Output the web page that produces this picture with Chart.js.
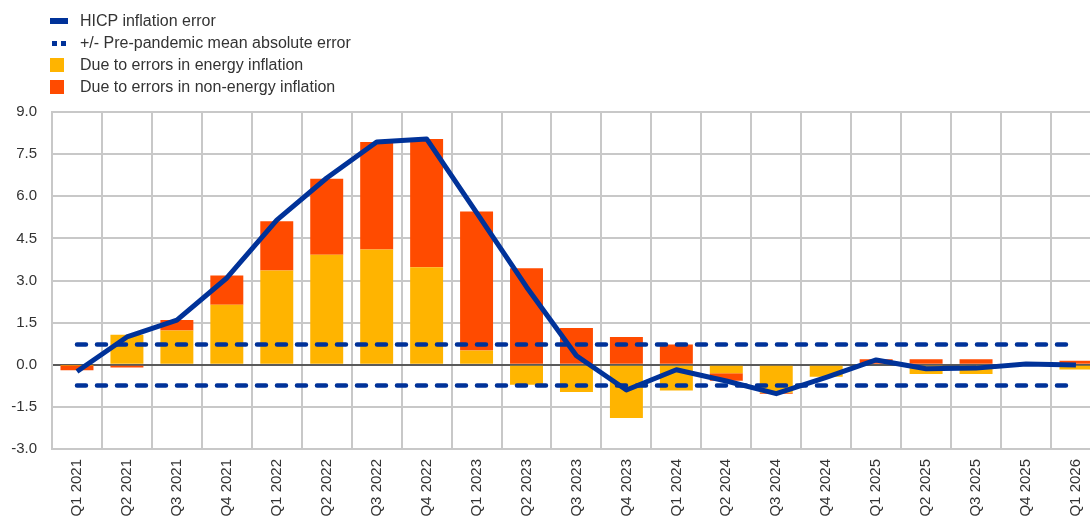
<!DOCTYPE html>
<html>
<head>
<meta charset="utf-8">
<script src="https://cdn.jsdelivr.net/npm/chart.js@4.4.1/dist/chart.umd.min.js"></script>
<style>
  body { margin: 0; background: #fff; overflow: hidden; width: 1090px; height: 520px; position: relative; }
  #legend { position: absolute; left: 50px; top: 10px; font-family: "Liberation Sans", Arial, sans-serif; font-size: 16px; color: #333; z-index: 1; }
  .row { height: 22px; line-height: 22px; display: flex; align-items: center; }
  .mark { width: 18px; margin-right: 12px; }
  #wrap { position: absolute; left: 0; top: 88px; width: 1104px; height: 432px; }
</style>
</head>
<body>
<div id="legend"></div>
<div id="wrap"><canvas id="errChart"></canvas></div>
<script>
// Quarters
const labels = ['Q1 2021', 'Q2 2021', 'Q3 2021', 'Q4 2021', 'Q1 2022', 'Q2 2022', 'Q3 2022', 'Q4 2022',
  'Q1 2023', 'Q2 2023', 'Q3 2023', 'Q4 2023', 'Q1 2024', 'Q2 2024', 'Q3 2024', 'Q4 2024',
  'Q1 2025', 'Q2 2025', 'Q3 2025', 'Q4 2025', 'Q1 2026'];

// Contributions (percentage points)
const energy = [-0.02, 1.07, 1.22, 2.14, 3.36, 3.92, 4.10, 3.47, 0.51, -0.71, -0.97, -1.90,
  -0.92, -0.30, -1.00, -0.43, 0.00, -0.33, -0.33, 0.00, -0.17];
const nonEnergy = [-0.18, -0.10, 0.37, 1.04, 1.75, 2.70, 3.83, 4.57, 4.95, 3.44, 1.31, 0.99,
  0.72, -0.27, -0.03, 0.00, 0.20, 0.20, 0.20, 0.03, 0.14];

// Total HICP error
const hicpError = [-0.24, 0.99, 1.59, 3.09, 5.15, 6.65, 7.93, 8.04, 5.42, 2.77, 0.32, -0.90,
  -0.18, -0.58, -1.03, -0.45, 0.17, -0.14, -0.12, 0.03, -0.01];

// +/- pre-pandemic mean absolute error band
const maeUpper = [0.72, 0.72, 0.72, 0.72, 0.72, 0.72, 0.72, 0.72, 0.72, 0.72, 0.72, 0.72,
  0.72, 0.72, 0.72, 0.72, 0.72, 0.72, 0.72, 0.72, 0.72];
const maeLower = [-0.74, -0.74, -0.74, -0.74, -0.74, -0.74, -0.74, -0.74, -0.74, -0.74, -0.74, -0.74,
  -0.74, -0.74, -0.74, -0.74, -0.74, -0.74, -0.74, -0.74, -0.74];

const yTicks = [-3.0, -1.5, 0.0, 1.5, 3.0, 4.5, 6.0, 7.5, 9.0];

const BLUE = '#003299';
const YELLOW = '#FFB400';
const ORANGE = '#FF4B00';
const FONT = '"Liberation Sans", Arial, sans-serif';

const chart = new Chart(document.getElementById('errChart'), {
  data: {
    labels: labels,
    datasets: [
      { type: 'line', label: 'HICP inflation error', data: hicpError, borderColor: BLUE, borderWidth: 5,
        pointRadius: 0, tension: 0, borderJoinStyle: 'round', stack: 'l1', order: 0 },
      { type: 'line', label: '+/- Pre-pandemic mean absolute error', data: maeUpper, borderColor: BLUE, borderWidth: 4.5,
        borderDash: [9, 11], borderCapStyle: 'round', pointRadius: 0, stack: 'l2', order: 0 },
      { type: 'line', label: 'mae-lower', data: maeLower, borderColor: BLUE, borderWidth: 4.5,
        borderDash: [9, 11], borderCapStyle: 'round', pointRadius: 0, stack: 'l3', order: 0 },
      { type: 'bar', label: 'Due to errors in energy inflation', data: energy, backgroundColor: YELLOW,
        stack: 'bars', order: 1, barPercentage: 0.66, categoryPercentage: 1 },
      { type: 'bar', label: 'Due to errors in non-energy inflation', data: nonEnergy, backgroundColor: ORANGE,
        stack: 'bars', order: 1, barPercentage: 0.66, categoryPercentage: 1 }
    ]
  },
  options: {
    responsive: true,
    maintainAspectRatio: false,
    animation: false,
    layout: { padding: { top: 0, right: 2, left: 0, bottom: 0 } },
    plugins: { legend: { display: false }, tooltip: { enabled: false } },
    scales: {
      x: {
        stacked: true,
        grid: { color: '#c8c8c8', lineWidth: 2, drawTicks: false, offset: true },
        border: { color: '#c8c8c8', width: 2 },
        ticks: { color: '#333', font: { family: FONT, size: 15 }, minRotation: 90, maxRotation: 90, padding: 10, autoSkip: false },
        afterFit: s => { s.height = 71; }
      },
      y: {
        stacked: true,
        min: -3, max: 9,
        afterBuildTicks: s => { s.ticks = yTicks.map(v => ({ value: v })); },
        grid: {
          color: c => c.tick && c.tick.value === 0 ? '#5a5a5a' : '#c8c8c8',
          lineWidth: 2, drawTicks: false
        },
        border: { color: '#c8c8c8', width: 2 },
        ticks: { color: '#333', font: { family: FONT, size: 15 }, padding: 15, callback: v => v.toFixed(1) },
        afterFit: s => { s.width = 52; }
      }
    }
  }
});

// Legend built from the datasets
const legend = document.getElementById('legend');
chart.data.datasets.filter(d => d.label !== 'mae-lower').forEach(d => {
  const row = document.createElement('div');
  row.className = 'row';
  const mark = document.createElement('span');
  mark.className = 'mark';
  if (d.type === 'bar') {
    mark.style.cssText = 'width:14px;height:14px;margin-right:16px;background:' + d.backgroundColor;
  } else if (d.borderDash) {
    mark.style.cssText = 'height:5px;background:repeating-linear-gradient(90deg,#fff 0 2px,' + BLUE + ' 2px 7px,#fff 7px 9px)';
  } else {
    mark.style.cssText = 'height:6px;background:' + BLUE;
  }
  const txt = document.createElement('span');
  txt.textContent = d.label;
  row.appendChild(mark);
  row.appendChild(txt);
  legend.appendChild(row);
});
</script>
</body>
</html>
